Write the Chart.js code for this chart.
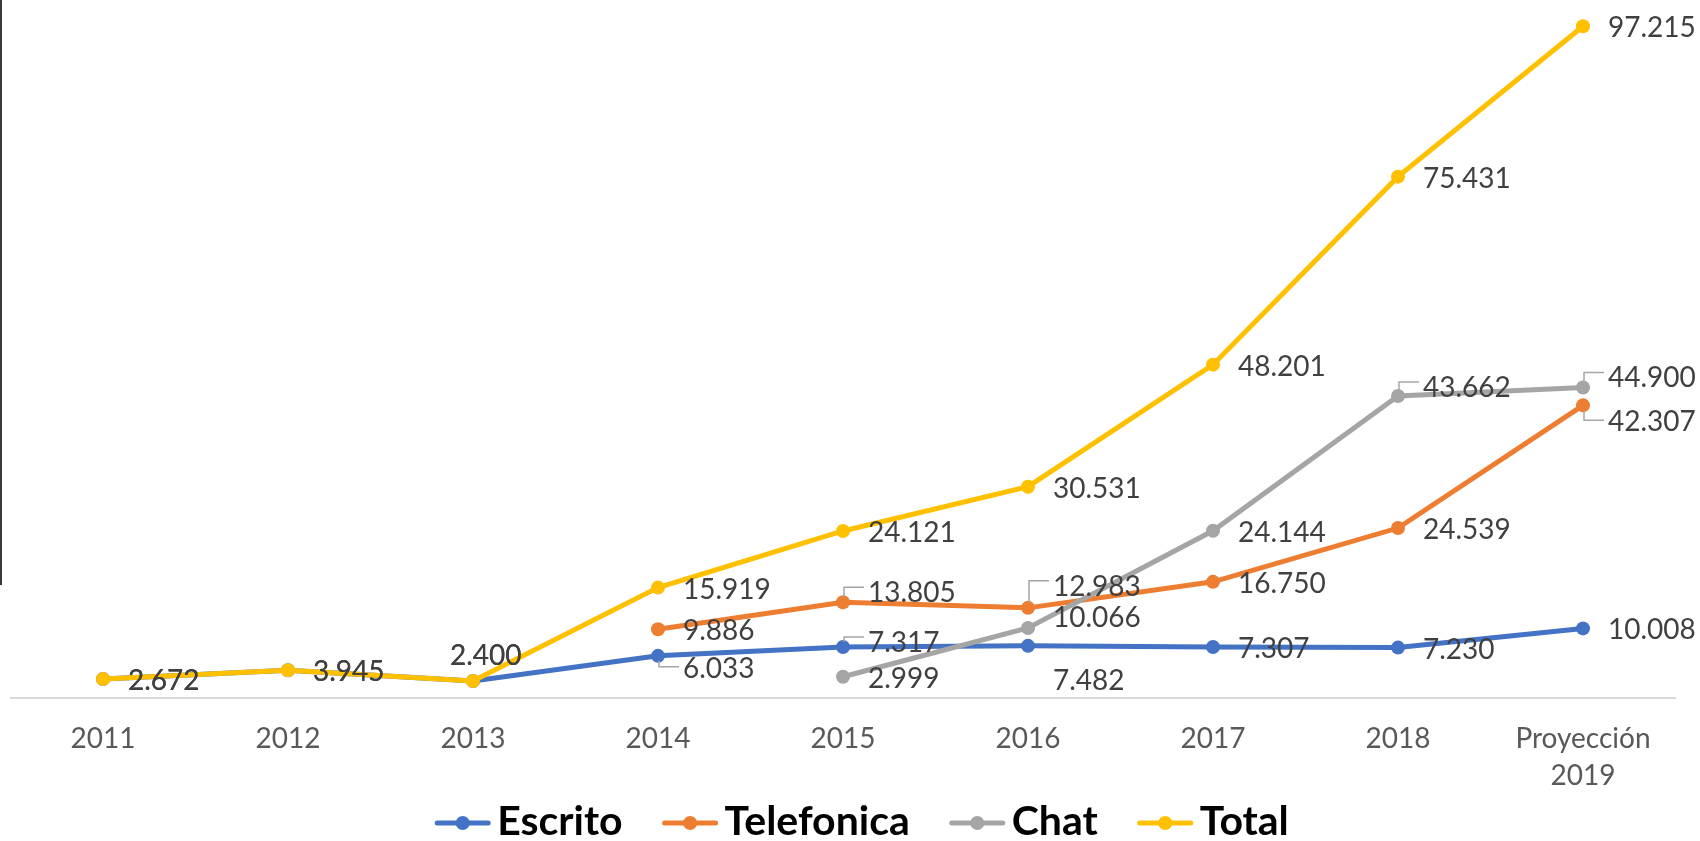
<!DOCTYPE html>
<html>
<head>
<meta charset="utf-8">
<script src="https://cdn.jsdelivr.net/npm/chart.js@4.4.1/dist/chart.umd.min.js"></script>
<style>
    html, body { margin: 0; padding: 0; background: #ffffff; }
    #wrap { position: relative; width: 1700px; height: 841px; }
    #edge { position: absolute; left: 0; top: 0; width: 2px; height: 585px; background: #3a3a3a; }
</style>
</head>
<body>
<div id="wrap">
    <canvas id="lineChart" width="1700" height="841"></canvas>
    <div id="edge"></div>
</div>
<script>
// Data (miles de atenciones)
const years = ['2011', '2012', '2013', '2014', '2015', '2016', '2017', '2018', ['Proyección', '2019']];
const escrito = [2.672, 3.945, 2.400, 6.033, 7.317, 7.482, 7.307, 7.230, 10.008];
const telefonica = [null, null, null, 9.886, 13.805, 12.983, 16.750, 24.539, 42.307];
const chat = [null, null, null, null, 2.999, 10.066, 24.144, 43.662, 44.900];
const total = [2.672, 3.945, 2.400, 15.919, 24.121, 30.531, 48.201, 75.431, 97.215];

const seriesNames = ['Escrito', 'Telefonica', 'Chat', 'Total'];
const seriesColors = ['#4472C4', '#ED7D31', '#A5A5A5', '#FFC000'];

// label shifts (dx, dy in px) for labels that were moved by hand, and which ones get a leader line
const labelShift = {
    '0-2': [-48, -25], '0-3': [0, 13, true], '0-4': [0, -4, true], '0-5': [0, 35],
    '1-4': [0, -9, true], '1-5': [0, -21, true], '1-8': [0, 17, true],
    '2-5': [0, -10], '2-7': [0, -8, true], '2-8': [0, -9, true],
    '3-2': [-48, -25]
};

// data labels drawn next to each point
const dataLabels = {
    id: 'dataLabels',
    afterDatasetsDraw(chart) {
        const ctx = chart.ctx;
        ctx.save();
        ctx.font = '28px Lato';
        ctx.fillStyle = '#404040';
        ctx.textAlign = 'left';
        ctx.textBaseline = 'middle';
        chart.data.datasets.forEach((ds, di) => {
            const meta = chart.getDatasetMeta(di);
            ds.data.forEach((v, i) => {
                if (v === null) return;
                const pt = meta.data[i];
                const shift = labelShift[di + '-' + i] || [0, 2];
                const lx = pt.x + 25 + shift[0];
                const ly = pt.y + shift[1];
                if (shift[2]) {
                    // small leader line from the label back to the point
                    const hy = shift[1] < 0 ? ly - 6 : ly - 2;
                    ctx.strokeStyle = '#A6A6A6';
                    ctx.lineWidth = 1.5;
                    ctx.beginPath();
                    ctx.moveTo(lx - 4, hy);
                    ctx.lineTo(pt.x + 1, hy);
                    ctx.lineTo(pt.x + 1, shift[1] < 0 ? pt.y - 5 : pt.y + 5);
                    ctx.stroke();
                }
                ctx.fillText(v.toFixed(3), lx, ly);
            });
        });
        ctx.restore();
    }
};

// legend drawn by hand so the spacing matches
const bottomLegend = {
    id: 'bottomLegend',
    afterDraw(chart) {
        const ctx = chart.ctx;
        ctx.save();
        ctx.font = 'bold 41px Lato';
        const markW = 55, gapText = 7, gapItem = 40, y = 823;
        const widths = seriesNames.map(n => ctx.measureText(n).width);
        let full = 0;
        widths.forEach(w => { full += markW + gapText + w; });
        full += gapItem * (seriesNames.length - 1);
        let x = 862 - full / 2;
        seriesNames.forEach((name, i) => {
            ctx.strokeStyle = seriesColors[i];
            ctx.fillStyle = seriesColors[i];
            ctx.lineWidth = 5;
            ctx.lineCap = 'round';
            ctx.beginPath();
            ctx.moveTo(x + 2, y);
            ctx.lineTo(x + markW - 2, y);
            ctx.stroke();
            ctx.beginPath();
            ctx.arc(x + markW / 2, y, 7, 0, Math.PI * 2);
            ctx.fill();
            ctx.fillStyle = '#000000';
            ctx.textAlign = 'left';
            ctx.textBaseline = 'middle';
            ctx.fillText(name, x + markW + gapText, y - 1);
            x += markW + gapText + widths[i] + gapItem;
        });
        ctx.restore();
    }
};

const seriesData = [escrito, telefonica, chat, total];

const lineChart = new Chart(document.getElementById('lineChart').getContext('2d'), {
    type: 'line',
    data: {
        labels: years,
        datasets: seriesData.map((d, i) => ({
            label: seriesNames[i],
            data: d,
            borderColor: seriesColors[i],
            backgroundColor: seriesColors[i],
            borderWidth: 5,
            pointRadius: 7,
            pointHoverRadius: 7,
            pointBorderWidth: 0,
            tension: 0,
            order: 3 - i
        }))
    },
    options: {
        responsive: false,
        animation: false,
        layout: { padding: { left: 10.5, right: 24.5, top: 4, bottom: 0 } },
        plugins: {
            legend: { display: false },
            tooltip: { enabled: false }
        },
        scales: {
            x: {
                offset: true,
                grid: { display: true, drawOnChartArea: false, drawTicks: false, color: 'rgba(0,0,0,0)' },
                border: { display: true, color: '#D9D9D9', width: 2 },
                ticks: {
                    color: '#595959',
                    font: { family: 'Lato', size: 28, lineHeight: 1.32 },
                    padding: 23,
                    maxRotation: 0,
                    autoSkip: false
                },
                afterFit(scale) { scale.height = 143.5; }
            },
            y: {
                display: false,
                min: 0,
                max: 100
            }
        }
    },
    plugins: [dataLabels, bottomLegend]
});
</script>
</body>
</html>
